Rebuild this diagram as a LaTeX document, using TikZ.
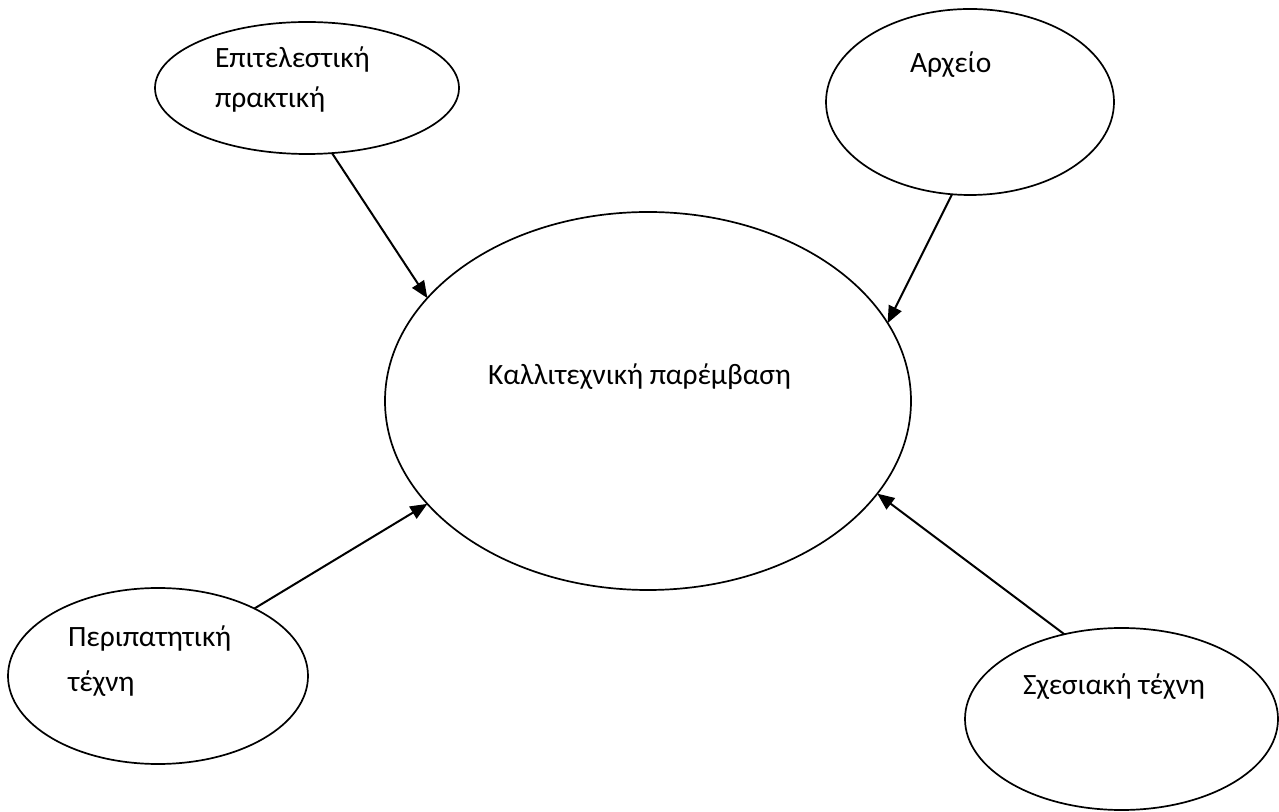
\documentclass[tikz,border=0pt]{standalone}
\usepackage{fontspec}
\setmainfont{Carlito}
\usetikzlibrary{shapes.geometric,arrows.meta}
\tikzset{
  bubble/.style={draw=black, line width=1.7pt, shape=ellipse, inner sep=0pt, outer sep=0pt},
  lbl/.style={anchor=base west, inner sep=0pt, outer sep=0pt, font=\fontsize{29.5}{35}\selectfont},
  conn/.style={line width=2pt, -{Triangle[length=17pt,width=14pt]}}
}
\begin{document}
\begin{tikzpicture}[x=1pt,y=1pt]
\useasboundingbox[fill=white] (0,0) rectangle (1279,811);
% ellipses (image coords y -> 811-y)
\node[bubble, minimum width=526pt, minimum height=378pt] (C) at (648,410) {};
\node[bubble, minimum width=304pt, minimum height=132pt] (TL) at (307,723) {};
\node[bubble, minimum width=288pt, minimum height=186pt] (TR) at (970,709) {};
\node[bubble, minimum width=300pt, minimum height=176pt] (BL) at (158,135) {};
\node[bubble, minimum width=313pt, minimum height=182pt] (BR) at (1121.5,92) {};
% labels
\node[lbl] (tC) at (488,426) {Καλλιτεχνική παρέμβαση};
\node[lbl] (tTL1) at (215,743) {Επιτελεστική};
\node[lbl] (tTL2) at (215,703) {πρακτική};
\node[lbl] (tTR) at (910,738) {Αρχείο};
\node[lbl] (tBL1) at (68,164) {Περιπατητική};
\node[lbl] (tBL2) at (68,119) {τέχνη};
\node[lbl] (tBR) at (1023,116) {Σχεσιακή τέχνη};
% connectors
\draw[conn] (TL.291.8) -- (C.155.4);
\draw[conn] (TR.259.3) -- (C.18.5);
\draw[conn] (BL.35.8) -- (C.205.2);
\draw[conn] (BR.124.2) -- (C.338.6);
\end{tikzpicture}
\end{document}
